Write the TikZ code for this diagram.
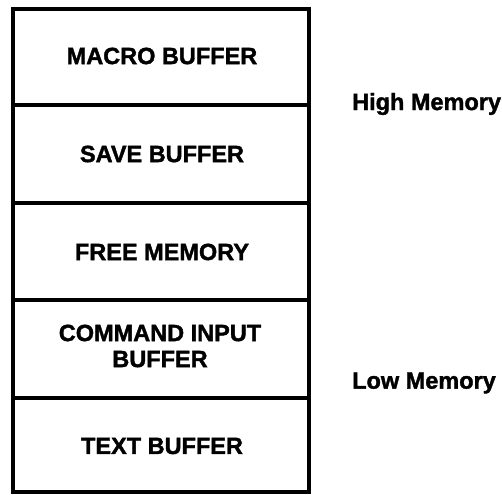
\documentclass[tikz,border=0pt]{standalone}
\usepackage{fontspec}
\newfontfamily\heavy{Liberation Sans Bold}[FakeBold=1.6]
\begin{document}
\begin{tikzpicture}[x=1pt,y=-1pt,
  frame/.style={line width=3.2pt,line cap=rect},
  label/.style={font=\heavy\fontsize{23.5}{26}\selectfont,align=center,inner sep=0pt},
  side/.style={font=\heavy\fontsize{23.5}{26}\selectfont,anchor=west,inner sep=0pt}]
  \useasboundingbox (0,0) rectangle (502,494);
  % memory map outline and section dividers
  \coordinate (tl) at (13,9);
  \coordinate (br) at (309,492);
  \draw[frame] (tl) rectangle (br);
  \foreach \y in {105,203,300,398} \draw[frame] (13,\y) -- (309,\y);
  % section names
  \node[label] (macro) at (162,56) {MACRO BUFFER};
  \node[label] (save) at (162,154) {SAVE BUFFER};
  \node[label] (free) at (162,252) {FREE MEMORY};
  \node[label] (cmd) at (160,346) {COMMAND INPUT\\BUFFER};
  \node[label] (text) at (162,446) {TEXT BUFFER};
  % address direction
  \node[side] (high) at (352,104) {High Memory};
  \node[side] (low) at (352,383) {Low Memory};
\end{tikzpicture}
\end{document}
